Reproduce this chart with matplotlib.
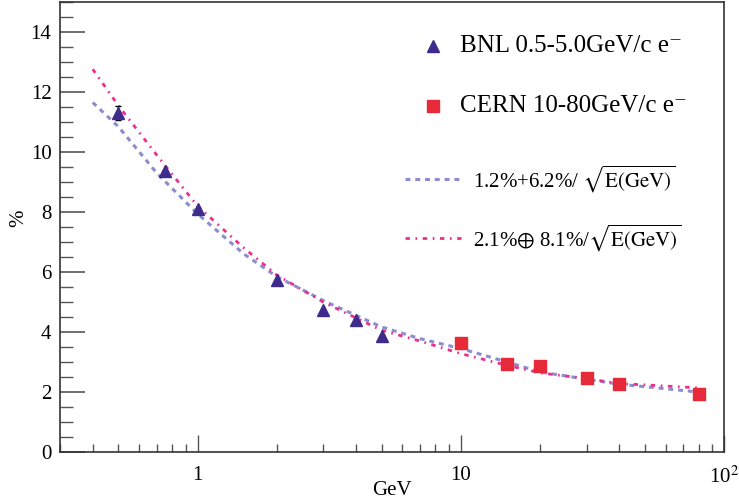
import numpy as np
import matplotlib
matplotlib.use('Agg')
import matplotlib.pyplot as plt
from matplotlib.ticker import MultipleLocator, FixedLocator, FixedFormatter, LogLocator, NullFormatter

plt.rcParams['font.family'] = ['Liberation Serif', 'DejaVu Serif']
plt.rcParams['mathtext.fontset'] = 'stix'

# measured points
bnl_e = [0.5, 0.75, 1.0, 2.0, 3.0, 4.0, 5.0]
bnl_res = [11.3, 9.38, 8.1, 5.72, 4.72, 4.39, 3.86]
bnl_err = [0.22, 0.0, 0.0, 0.0, 0.0, 0.0, 0.0]

cern_e = [10, 15, 20, 30, 40, 80]
cern_res = [3.63, 2.92, 2.86, 2.48, 2.26, 1.92]

# fit curves, values
fit_e = [0.4, 0.5, 0.7, 1.0, 1.5, 2.0, 3.0, 5.0, 7.0, 10, 15, 20, 30, 40, 50, 80]
fit1_res = [11.65, 10.85, 9.3, 7.94, 6.6, 5.85, 5.05, 4.17, 3.78, 3.45, 3.0, 2.67, 2.43, 2.26, 2.18, 2.0]
fit2_res = [12.76, 11.55, 9.9, 8.2, 6.8, 5.9, 5.0, 4.06, 3.70, 3.28, 2.89, 2.64, 2.45, 2.28, 2.24, 2.14]

tri_col = '#3f2b8c'
sq_col = '#e62a3a'
fit1_col = '#8c8cd0'
fit2_col = '#ec2f8e'
ls1 = (0, (1.6, 1.6))
ls2 = (0, (1.6, 2.0, 0.6, 2.0))

fig = plt.figure(figsize=(7.39, 5.04), dpi=100)
ax = fig.add_axes([0.081, 0.103, 0.899, 0.893])

ax.plot(fit_e, fit1_res, color=fit1_col, lw=2.2, ls=ls1)
ax.plot(fit_e, fit2_res, color=fit2_col, lw=2.0, ls=ls2)

ax.errorbar(bnl_e, bnl_res, yerr=bnl_err, fmt='^', color=tri_col, ms=8,
            ecolor='black', elinewidth=1, capsize=2.5, zorder=5)
ax.plot(cern_e, cern_res, 's', color=sq_col, ms=8, zorder=5)

ax.set_xscale('log')
ax.set_xlim(0.3, 100)
ax.set_ylim(0, 15)

ax.yaxis.set_major_locator(MultipleLocator(2))
ax.yaxis.set_minor_locator(MultipleLocator(0.5))
ax.xaxis.set_major_locator(FixedLocator([1, 10, 100]))
ax.xaxis.set_major_formatter(FixedFormatter(['1', '10', r'10$^{2}$']))
ax.xaxis.set_minor_locator(LogLocator(base=10, subs=np.arange(2, 10)))
ax.xaxis.set_minor_formatter(NullFormatter())

ax.tick_params(axis='y', which='major', direction='in', length=18, width=1.2,
               labelsize=15, right=False, pad=6, color='#555555')
ax.tick_params(axis='y', which='minor', direction='in', length=9, width=1.0,
               right=False, color='#555555')
ax.tick_params(axis='x', which='major', direction='in', length=12, width=1.0,
               labelsize=15, top=False, pad=10, color='#555555')
ax.tick_params(axis='x', which='minor', direction='in', length=6, width=1.0,
               top=False, color='#555555')
for s in ax.spines.values():
    s.set_linewidth(1.2)
    s.set_color('#333333')

ax.set_xlabel('GeV', fontsize=15, labelpad=-2)
ax.xaxis.set_label_coords(0.5, -0.065)
ax.set_ylabel('%', fontsize=15)
ax.yaxis.set_label_coords(-0.048, 0.52)

# legend drawn by hand, positions in axes fraction
tr = ax.transAxes
ax.plot([0.562], [0.903], '^', color=tri_col, ms=8, transform=tr, clip_on=False)
ax.text(0.602, 0.903, 'BNL 0.5-5.0GeV/c e\u207b', fontsize=18, va='center', transform=tr)
ax.plot([0.562], [0.768], 's', color=sq_col, ms=8, transform=tr, clip_on=False)
ax.text(0.602, 0.768, 'CERN 10-80GeV/c e\u207b', fontsize=18, va='center', transform=tr)

ax.plot([0.52, 0.604], [0.606, 0.606], color=fit1_col, lw=2.2, ls=ls1, transform=tr)
ax.text(0.622, 0.606, r'1.2%+6.2%/ $\sqrt{\mathrm{E(GeV)}}$', fontsize=15, va='center', transform=tr)
ax.plot([0.52, 0.604], [0.475, 0.475], color=fit2_col, lw=2.0, ls=ls2, transform=tr)
ax.text(0.622, 0.475, r'2.1%$\oplus$ 8.1%/$\sqrt{\mathrm{E(GeV)}}$', fontsize=15, va='center', transform=tr)

fig.savefig('out.png', dpi=100)
